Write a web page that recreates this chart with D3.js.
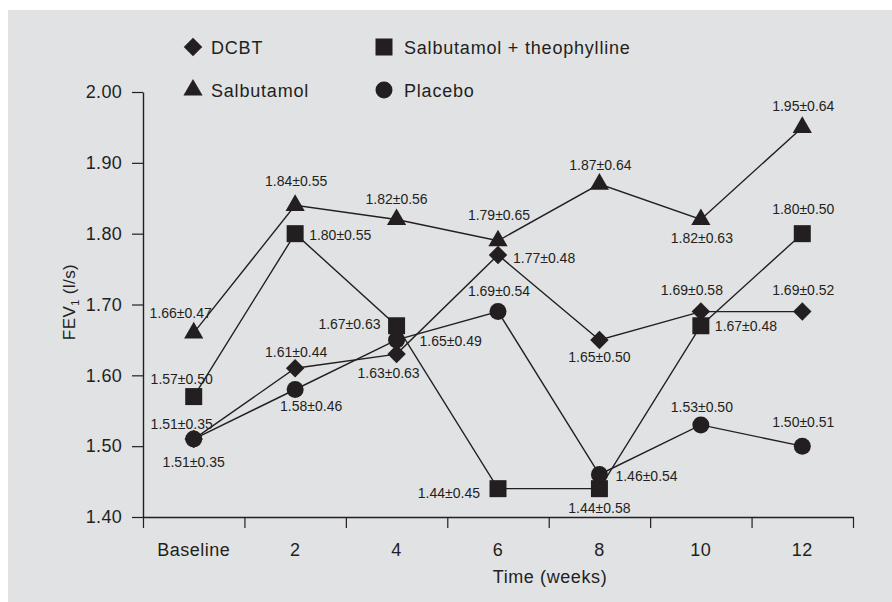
<!DOCTYPE html>
<html>
<head>
<meta charset="utf-8">
<script src="https://cdn.jsdelivr.net/npm/d3@7"></script>
<style>
  html, body { margin: 0; padding: 0; background: #ffffff; }
  svg { display: block; }
  text { font-family: "Liberation Sans", Arial, Helvetica, sans-serif; fill: #231f20; }
</style>
</head>
<body>
<svg id="chart" width="892" height="602"></svg>
<script>
// ---- Data ----
const categories = ["Baseline", "2", "4", "6", "8", "10", "12"];
const yTicks = [1.40, 1.50, 1.60, 1.70, 1.80, 1.90, 2.00];

const dcbtMean = [1.51, 1.61, 1.63, 1.77, 1.65, 1.69, 1.69];
const dcbtSD   = [0.35, 0.44, 0.63, 0.48, 0.50, 0.58, 0.52];

const salbMean = [1.66, 1.84, 1.82, 1.79, 1.87, 1.82, 1.95];
const salbSD   = [0.47, 0.55, 0.56, 0.65, 0.64, 0.63, 0.64];

const stMean   = [1.57, 1.80, 1.67, 1.44, 1.44, 1.67, 1.80];
const stSD     = [0.50, 0.55, 0.63, 0.45, 0.58, 0.48, 0.50];

const plaMean  = [1.51, 1.58, 1.65, 1.69, 1.46, 1.53, 1.50];
const plaSD    = [0.35, 0.46, 0.49, 0.54, 0.54, 0.50, 0.51];

const seriesNames = ["DCBT", "Salbutamol", "Salbutamol + theophylline", "Placebo"];

// ---- Label placement (layout only): [dx, dy, anchor] relative to the point ----
const labelPos = {
  "DCBT": [[-12,-10,"middle"],[1,-11,"middle"],[-8,24,"middle"],[15,8,"start"],[0,22,"middle"],[-9,-17,"middle"],[1,-17,"middle"]],
  "Salbutamol": [[-13,-15,"middle"],[1,-19,"middle"],[0,-15.5,"middle"],[1,-21,"middle"],[1,-14,"middle"],[1,23.5,"middle"],[1,-16,"middle"]],
  "Salbutamol + theophylline": [[-12,-12.6,"middle"],[14,6,"start"],[-16,3,"end"],[-18,9,"end"],[0,24,"middle"],[14,5,"start"],[1,-20,"middle"]],
  "Placebo": [[0,28,"middle"],[16,21.5,"middle"],[23,6,"start"],[1,-16,"middle"],[16,6.5,"start"],[1,-13,"middle"],[1,-19,"middle"]]
};

const series = [
  {name: "DCBT", mean: dcbtMean, sd: dcbtSD, shape: "diamond"},
  {name: "Salbutamol", mean: salbMean, sd: salbSD, shape: "triangle"},
  {name: "Salbutamol + theophylline", mean: stMean, sd: stSD, shape: "square"},
  {name: "Placebo", mean: plaMean, sd: plaSD, shape: "circle"}
];

const ink = "#231f20";
const svg = d3.select("#chart");

// background panel
svg.append("rect").attr("x", 8).attr("y", 10).attr("width", 884).attr("height", 592).attr("fill", "#e1e2e4");

const x = d3.scaleBand().domain(categories).range([143, 853]).padding(0);
const xEdge = d3.scaleLinear().domain([0, categories.length]).range([143, 853]);
const y = d3.scaleLinear().domain([1.40, 2.00]).range([517, 92]);

function symbolPath(shape, big) {
  const s = big || 1;
  if (shape === "diamond") return d3.symbol(d3.symbolSquare, 170 * s)();
  if (shape === "triangle") return d3.symbol(d3.symbolTriangle, 160 * s)();
  if (shape === "square") return d3.symbol(d3.symbolSquare, 289 * s)();
  return d3.symbol(d3.symbolCircle, 227 * s)();
}
function symbolTransform(shape, px, py) {
  return shape === "diamond" ? `translate(${px},${py}) rotate(45)` : `translate(${px},${py})`;
}

// axes
const yAxis = svg.append("g").attr("transform", "translate(143,0)")
  .call(d3.axisLeft(y).tickValues(yTicks).tickFormat(d3.format(".2f")).tickSize(11).tickSizeOuter(0).tickPadding(10));
yAxis.select(".domain").attr("stroke", ink).attr("stroke-width", 1.4);
yAxis.selectAll(".tick line").attr("stroke", ink).attr("stroke-width", 1.2);
yAxis.selectAll(".tick text").attr("font-size", 18).attr("font-family", "Liberation Sans, Arial, sans-serif").attr("fill", ink).style("letter-spacing", "0.3px");

const xAxis = svg.append("g").attr("transform", "translate(0,517)")
  .call(d3.axisBottom(xEdge).tickValues(d3.range(0, categories.length + 1)).tickFormat("").tickSize(11).tickSizeOuter(0));
xAxis.select(".domain").attr("stroke", ink).attr("stroke-width", 1.4);
xAxis.selectAll(".tick line").attr("stroke", ink).attr("stroke-width", 1.2);

svg.append("g").selectAll("text").data(categories).join("text")
  .attr("x", d => x(d) + x.bandwidth() / 2)
  .attr("y", 556)
  .attr("text-anchor", "middle")
  .attr("font-size", 18)
  .style("letter-spacing", "0.5px")
  .text(d => d);

svg.append("text").attr("x", 550).attr("y", 583).attr("text-anchor", "middle")
  .attr("font-size", 18).style("letter-spacing", "0.6px").text("Time (weeks)");

const yl = svg.append("text").attr("transform", "translate(75,302) rotate(-90)")
  .attr("text-anchor", "middle").attr("font-size", 17).style("letter-spacing", "0.4px");
yl.append("tspan").text("FEV");
yl.append("tspan").attr("font-size", 11).attr("dy", 4).text("1");
yl.append("tspan").attr("dy", -4).text(" (l/s)");

// lines
const line = d3.line().x((d, i) => x(categories[i]) + x.bandwidth() / 2).y(d => y(d));
series.forEach(s => {
  svg.append("path").attr("d", line(s.mean)).attr("fill", "none").attr("stroke", ink).attr("stroke-width", 1.4);
});

// markers
series.forEach(s => {
  svg.append("g").selectAll("path").data(s.mean).join("path")
    .attr("d", symbolPath(s.shape))
    .attr("transform", (d, i) => symbolTransform(s.shape, x(categories[i]) + x.bandwidth() / 2, y(d)))
    .attr("fill", ink);
});

// labels
const fmt = d3.format(".2f");
series.forEach(s => {
  const pos = labelPos[s.name];
  svg.append("g").selectAll("text").data(s.mean).join("text")
    .attr("x", (d, i) => x(categories[i]) + x.bandwidth() / 2 + pos[i][0])
    .attr("y", (d, i) => y(d) + pos[i][1])
    .attr("text-anchor", (d, i) => pos[i][2])
    .attr("font-size", 14)
    .text((d, i) => `${fmt(d)}±${fmt(s.sd[i])}`);
});

// legend
const legendItems = [
  {name: seriesNames[0], shape: "diamond", x: 193, y: 47},
  {name: seriesNames[2], shape: "square", x: 384, y: 47},
  {name: seriesNames[1], shape: "triangle", x: 193, y: 90},
  {name: seriesNames[3], shape: "circle", x: 384, y: 90}
];
legendItems.forEach(l => {
  svg.append("path").attr("d", symbolPath(l.shape))
    .attr("transform", symbolTransform(l.shape, l.x, l.y)).attr("fill", ink);
  svg.append("text").attr("x", l.x + (l.shape === "square" || l.shape === "circle" ? 20 : 18)).attr("y", l.y + 6.5)
    .attr("font-size", 18).style("letter-spacing", "0.8px").text(l.name);
});
</script>
</body>
</html>
